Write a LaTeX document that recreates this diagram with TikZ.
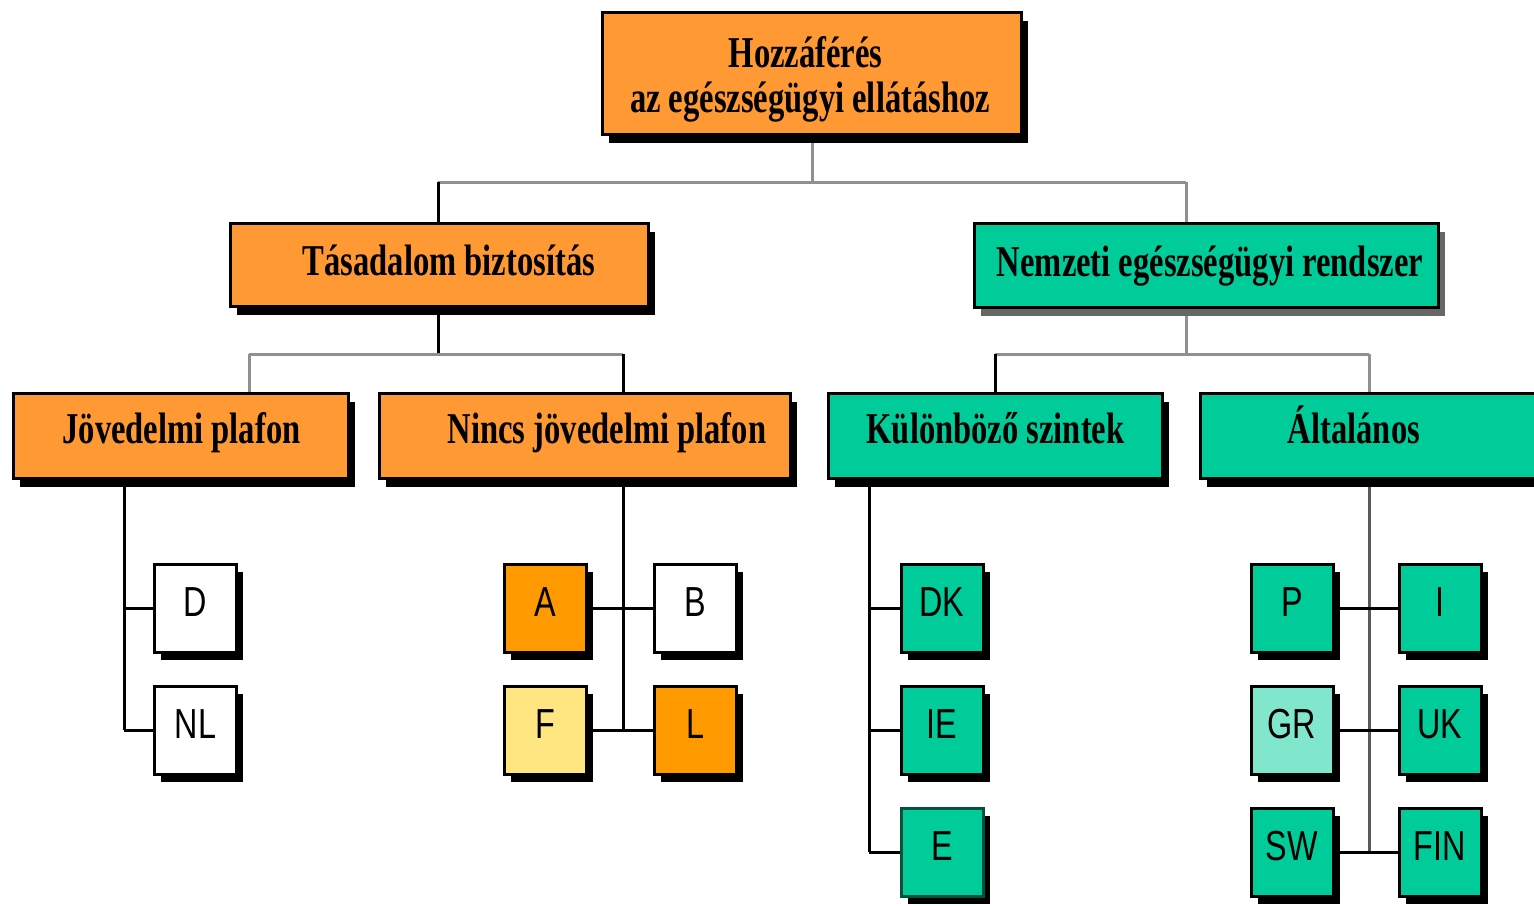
\documentclass[tikz,border=0pt]{standalone}
\usepackage{graphicx}
\usepackage{fontspec}
\setmainfont{Liberation Serif}
\newfontfamily\smallfontfam{Liberation Sans}
\usetikzlibrary{shadows,backgrounds}
\definecolor{orT}{HTML}{FF9933}
\definecolor{orS}{HTML}{FF9900}
\definecolor{yelF}{HTML}{FFE680}
\definecolor{teal}{HTML}{00CC99}
\definecolor{tealL}{HTML}{80E6CC}
\definecolor{busgray}{HTML}{909090}
\newcommand\mytitle[1]{{\fontsize{44}{46}\selectfont\bfseries\scalebox{0.74}[1]{#1}}}
\newcommand\mysmall[1]{{\smallfontfam\fontsize{42}{44}\selectfont\scalebox{0.77}[1]{#1}}}
\tikzset{
  bigbox/.style={draw=black, line width=3pt, rectangle, inner sep=0pt,
    drop shadow={shadow xshift=6.5pt, shadow yshift=-8pt, fill=black, opacity=1}},
  smallbox/.style={draw=black, line width=3pt, rectangle, inner sep=0pt,
    minimum width=82pt, minimum height=88pt,
    drop shadow={shadow xshift=6.5pt, shadow yshift=-8pt, fill=black, opacity=1}},
  txt/.style={anchor=base, inner sep=0pt},
  conn/.style={line width=3pt, black},
  bus/.style={line width=3pt, busgray},
}
\begin{document}
\begin{tikzpicture}[x=1pt, y=-1pt]
\useasboundingbox (0,0) rectangle (1534,905);

% big boxes
\node[bigbox, fill=orT, minimum width=419pt, minimum height=122pt] (top) at (812,73.5) {};
\node[bigbox, fill=orT, minimum width=418pt, minimum height=83pt] (tas) at (439.5,265) {};
\node[bigbox, fill=teal, minimum width=464pt, minimum height=84pt,
  drop shadow={shadow xshift=6.5pt, shadow yshift=-8pt, fill=black!60, opacity=1}] (nem) at (1206.5,265.5) {};
\node[bigbox, fill=orT, minimum width=335pt, minimum height=85pt] (jov) at (181,436) {};
\node[bigbox, fill=orT, minimum width=411pt, minimum height=85pt] (nincs) at (585,436) {};
\node[bigbox, fill=teal, minimum width=334pt, minimum height=85pt] (kul) at (995.5,436) {};
\node[bigbox, fill=teal, minimum width=343pt, minimum height=85pt] (alt) at (1372,436) {};

% big box texts
\node[txt] (topt1) at (805.5,67) {\mytitle{Hozzáférés}};
\node[txt] (topt2) at (810,112) {\mytitle{az egészségügyi ellátáshoz}};
\node[txt] (tast) at (449,275) {\mytitle{Tásadalom biztosítás}};
\node[txt] (nemt) at (1210,276) {\mytitle{Nemzeti egészségügyi rendszer}};
\node[txt] (jovt) at (181.5,443) {\mytitle{Jövedelmi plafon}};
\node[txt] (nincst) at (607,443) {\mytitle{Nincs jövedelmi plafon}};
\node[txt] (kult) at (995.5,443) {\mytitle{Különböző szintek}};
\node[txt] (altt) at (1354,443) {\mytitle{Általános}};

% small boxes
\node[smallbox, fill=white] (D) at (195.5,608) {};
\node[smallbox, fill=white] (NL) at (195.5,730) {};
\node[smallbox, fill=orS] (A) at (545.5,608) {};
\node[smallbox, fill=white] (B) at (695,608) {};
\node[smallbox, fill=yelF] (F) at (545.5,730) {};
\node[smallbox, fill=orS] (L) at (695,730) {};
\node[smallbox, fill=teal] (DK) at (942,608) {};
\node[smallbox, fill=teal] (IE) at (942,730) {};
\node[smallbox, fill=teal, draw=teal!40!black] (E) at (942,852) {};
\node[smallbox, fill=teal] (P) at (1292,608) {};
\node[smallbox, fill=teal] (I) at (1440,608) {};
\node[smallbox, fill=tealL] (GR) at (1292,730) {};
\node[smallbox, fill=teal] (UK) at (1440,730) {};
\node[smallbox, fill=teal] (SW) at (1292,852) {};
\node[smallbox, fill=teal] (FIN) at (1440,852) {};

% small box texts
\foreach \n/\t in {D/D, NL/NL, A/A, B/B, F/F, L/L, DK/DK, IE/IE, E/E, P/P, I/I, GR/GR, UK/UK, SW/SW, FIN/FIN}{
  \node[txt] (\n t) at ([yshift=-8pt]\n.center) {\mysmall{\t}};
}

\begin{scope}[on background layer]
  \fill[white] (0,0) rectangle (1534,905);
  % level 1
  \coordinate (b1) at (812,182);
  \coordinate (b1l) at (438,182);
  \coordinate (b1r) at (1186,182);
  \draw[bus] (top.south) -- (b1);
  \draw[bus] (b1l) -- (b1r);
  \draw[conn] (b1l) -- (b1l |- tas.north);
  \draw[bus] (b1r) -- (b1r |- nem.north);
  % level 2 left
  \coordinate (b2) at (438,354);
  \coordinate (b2l) at (249,354);
  \coordinate (b2r) at (623,354);
  \draw[conn] (b2 |- tas.south) -- (b2);
  \draw[bus] (b2l) -- (b2r);
  \draw[bus] (b2l) -- (b2l |- jov.north);
  \draw[conn] (b2r) -- (b2r |- nincs.north);
  % level 2 right
  \coordinate (b3) at (1186,354);
  \coordinate (b3l) at (995,354);
  \coordinate (b3r) at (1369,354);
  \draw[bus] (b3 |- nem.south) -- (b3);
  \draw[bus] (b3l) -- (b3r);
  \draw[conn] (b3l) -- (b3l |- kul.north);
  \draw[bus] (b3r) -- (b3r |- alt.north);
  % level 3: Jövedelmi plafon
  \coordinate (v1) at (124,730);
  \draw[conn] (v1 |- jov.south) -- (v1);
  \draw[conn] (v1 |- D.west) -- (D.west);
  \draw[conn] (v1) -- (NL.west);
  % Nincs jövedelmi plafon
  \coordinate (v2) at (623,730);
  \draw[conn] (v2 |- nincs.south) -- (v2);
  \draw[conn] (A.east) -- (B.west);
  \draw[conn] (F.east) -- (L.west);
  % Különböző szintek
  \coordinate (v3) at (869,852);
  \draw[conn] (v3 |- kul.south) -- (v3);
  \draw[conn] (v3 |- DK.west) -- (DK.west);
  \draw[conn] (v3 |- IE.west) -- (IE.west);
  \draw[conn] (v3) -- (E.west);
  % Általános
  \coordinate (v4) at (1369,852);
  \draw[line width=3pt, black!65] (v4 |- alt.south) -- (v4);
  \draw[conn] (P.east) -- (I.west);
  \draw[conn] (GR.east) -- (UK.west);
  \draw[conn] (SW.east) -- (FIN.west);
\end{scope}
\end{tikzpicture}
\end{document}
